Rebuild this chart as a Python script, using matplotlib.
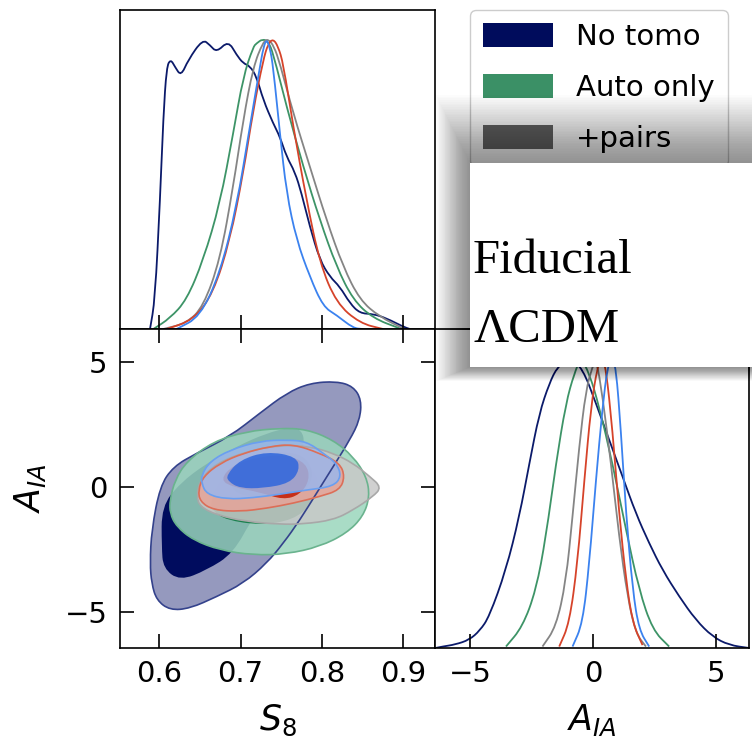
import numpy as np
import matplotlib
matplotlib.use("Agg")
import matplotlib.pyplot as plt
from matplotlib.path import Path
from matplotlib.patches import PathPatch, Patch, Rectangle

# ---- data ----
runs = ["No tomo", "Auto only", "+pairs", "red", "blue"]
legend_runs = ["No tomo", "Auto only", "+pairs"]

line_col = {"No tomo": "#0b1a6a", "Auto only": "#3d9467", "+pairs": "#858585",
            "red": "#d6432a", "blue": "#3b82ef"}
legend_col = {"No tomo": "#000c5c", "Auto only": "#3b9066", "+pairs": "#6a6a6a"}

# 1D marginal of S8
s8_x = {
    "No tomo": [0.5886, 0.5947, 0.6009, 0.605, 0.609, 0.614, 0.6193, 0.6267, 0.6356, 0.6533,
                0.6623, 0.6705, 0.6848, 0.6951, 0.7032, 0.7114, 0.7196, 0.7278, 0.740, 0.7483,
                0.7565, 0.7667, 0.7749, 0.7851, 0.7974, 0.8097, 0.822, 0.8343, 0.8466, 0.8629,
                0.8794, 0.8998, 0.908],
    "Auto only": [0.5928, 0.6131, 0.6336, 0.6541, 0.6746, 0.6909, 0.7032, 0.7155, 0.7196, 0.727,
                  0.734, 0.740, 0.7565, 0.777, 0.7974, 0.8179, 0.8384, 0.8629, 0.8957],
    "+pairs": [0.605, 0.6336, 0.6541, 0.6746, 0.6909, 0.7032, 0.7155, 0.7278, 0.734, 0.741,
               0.7483, 0.7647, 0.7851, 0.8056, 0.826, 0.8466, 0.871, 0.8998],
    "red": [0.609, 0.6418, 0.6663, 0.6869, 0.7032, 0.7155, 0.7278, 0.734, 0.740, 0.746,
            0.7524, 0.7647, 0.781, 0.7974, 0.8179, 0.8466, 0.875],
    "blue": [0.6213, 0.650, 0.6746, 0.6951, 0.7114, 0.7237, 0.728, 0.7319, 0.736, 0.740,
             0.7483, 0.7565, 0.7688, 0.7851, 0.8015, 0.8179, 0.8384, 0.85],
}
s8_p = {
    "No tomo": [0, 0.10, 0.445, 0.732, 0.904, 0.93, 0.904, 0.872, 0.928, 0.999,
                0.979, 0.954, 0.994, 0.945, 0.916, 0.907, 0.870, 0.790, 0.709, 0.663,
                0.594, 0.542, 0.468, 0.353, 0.238, 0.180, 0.146, 0.089, 0.054, 0.052,
                0.037, 0.008, 0],
    "Auto only": [0, 0.037, 0.10, 0.238, 0.433, 0.675, 0.870, 0.973, 0.985, 1.0,
                  0.991, 0.951, 0.767, 0.560, 0.376, 0.215, 0.10, 0.037, 0.002],
    "+pairs": [0, 0.02, 0.077, 0.238, 0.491, 0.721, 0.904, 0.991, 1.0, 0.975,
               0.916, 0.744, 0.560, 0.376, 0.215, 0.10, 0.042, 0.002],
    "red": [0, 0.031, 0.123, 0.307, 0.537, 0.755, 0.928, 0.985, 1.0, 0.975,
            0.916, 0.698, 0.445, 0.227, 0.089, 0.02, 0],
    "blue": [0, 0.042, 0.192, 0.422, 0.698, 0.904, 0.97, 1.0, 0.97, 0.904,
             0.675, 0.468, 0.307, 0.180, 0.077, 0.048, 0.003, 0],
}

# 1D marginal of A_IA
aia_x = {
    "No tomo": [-6.4, -6.11, -5.6, -5.03, -4.6, -4.22, -3.54, -3.0, -2.59, -2.19, -1.78, -1.45,
                -0.95, -0.43, 0.11, 0.65, 1.19, 1.73, 2.27, 2.81, 3.49, 4.16, 4.84, 5.51, 6.32],
    "Auto only": [-3.54, -2.87, -2.32, -1.92, -1.51, -1.11, -0.77, -0.5, -0.16, 0.24,
                  0.78, 1.33, 1.86, 2.41, 3.08],
    "+pairs": [-2.06, -1.51, -1.11, -0.84, -0.57, -0.30, -0.03, 0.12, 0.38, 0.72,
               1.05, 1.39, 1.73, 2.14],
    "red": [-1.38, -0.97, -0.64, -0.36, -0.09, 0.17, 0.34, 0.51, 0.78, 1.05, 1.33, 1.6, 2.0],
    "blue": [-0.84, -0.43, -0.16, 0.11, 0.38, 0.58, 0.75, 0.92, 1.12, 1.33, 1.6, 1.86, 2.27],
}
aia_p = {
    "No tomo": [0.0, 0.005, 0.012, 0.028, 0.06, 0.108, 0.269, 0.453, 0.637, 0.809, 0.913, 0.970,
                1.0, 0.964, 0.844, 0.717, 0.591, 0.464, 0.361, 0.269, 0.177, 0.097, 0.039, 0.010, 0.0],
    "Auto only": [0.005, 0.073, 0.2, 0.384, 0.637, 0.844, 0.947, 1.0, 0.947, 0.833,
                  0.637, 0.407, 0.2, 0.062, 0.005],
    "+pairs": [0.005, 0.073, 0.228, 0.453, 0.694, 0.889, 0.97, 1.0, 0.866, 0.637,
               0.384, 0.177, 0.05, 0.005],
    "red": [0.005, 0.085, 0.292, 0.58, 0.833, 0.97, 1.0, 0.97, 0.752, 0.465, 0.235, 0.085, 0.01],
    "blue": [0.005, 0.085, 0.292, 0.58, 0.833, 0.97, 1.0, 0.97, 0.752, 0.465, 0.2, 0.062, 0.005],
}

# 2D contours (S8, A_IA): 95% (outer) and 68% (inner) outlines
outer_s8 = {
    "No tomo": [0.5886, 0.5906, 0.6008, 0.6172, 0.6459, 0.6868, 0.7237, 0.7565, 0.7851, 0.8179,
                0.8384, 0.8486, 0.8465, 0.8343, 0.8138, 0.7933, 0.7728, 0.7524, 0.7319, 0.7032,
                0.6705, 0.6377, 0.6131, 0.5967, 0.5906],
    "Auto only": [0.6131, 0.6193, 0.6336, 0.6664, 0.7073, 0.7483, 0.7810, 0.8138, 0.8384, 0.8547,
                  0.8588, 0.8506, 0.8302, 0.7974, 0.7565, 0.7155, 0.6746, 0.6418, 0.6213, 0.6131],
    "+pairs": [0.6459, 0.6500, 0.6705, 0.7073, 0.7483, 0.7851, 0.8138, 0.8384, 0.8588, 0.8732,
               0.8629, 0.8384, 0.8138, 0.7769, 0.7483, 0.7073, 0.6705, 0.6500],
    "red": [0.6479, 0.6541, 0.6746, 0.7032, 0.7360, 0.7646, 0.7974, 0.8220, 0.8281, 0.8220,
            0.7974, 0.7646, 0.7319, 0.6991, 0.6664, 0.6500],
    "blue": [0.6520, 0.6623, 0.6868, 0.7237, 0.7565, 0.7810, 0.8015, 0.8179, 0.8240, 0.8138,
             0.7810, 0.7483, 0.7155, 0.6827, 0.6582, 0.6520],
}
outer_aia = {
    "No tomo": [-3.04, -1.71, 0.03, 0.825, 1.36, 2.03, 2.96, 3.76, 4.16, 4.23,
                4.03, 3.49, 2.69, 1.89, 0.825, -0.24, -1.31, -2.24, -3.04, -3.84,
                -4.37, -4.84, -4.91, -4.51, -3.84],
    "Auto only": [-0.51, 0.29, 1.03, 1.83, 2.23, 2.36, 2.32, 1.89, 1.23, 0.43,
                  -0.37, -1.17, -1.84, -2.37, -2.67, -2.71, -2.51, -2.11, -1.57, -1.04],
    "+pairs": [-0.37, 0.29, 0.96, 1.43, 1.69, 1.63, 1.36, 0.96, 0.43, 0.0,
               -0.37, -0.91, -1.31, -1.47, -1.48, -1.37, -1.11, -0.77],
    "red": [-0.11, 0.43, 0.96, 1.36, 1.63, 1.72, 1.36, 0.96, 0.43, -0.11,
            -0.37, -0.64, -0.84, -0.97, -0.91, -0.57],
    "blue": [0.49, 1.03, 1.49, 1.85, 1.89, 1.83, 1.36, 0.96, 0.43, 0.03,
             -0.11, -0.28, -0.42, -0.48, -0.28, 0.16],
}
inner_s8 = {
    "No tomo": [0.6029, 0.6254, 0.6582, 0.6950, 0.7319, 0.7605, 0.7749, 0.7790, 0.7687, 0.7442,
                0.7155, 0.6909, 0.6582, 0.6254, 0.6049, 0.6029],
    "Auto only": [0.6623, 0.6746, 0.7073, 0.7483, 0.7810, 0.7974, 0.7892, 0.7646, 0.7237, 0.6827, 0.6664],
    "+pairs": [0.6868, 0.6909, 0.7155, 0.7483, 0.7769, 0.7892, 0.7851, 0.7646, 0.7237, 0.6991],
    "red": [0.6746, 0.6909, 0.7237, 0.7565, 0.7810, 0.7851, 0.7728, 0.7524, 0.7237, 0.6909],
    "blue": [0.6827, 0.6991, 0.7319, 0.7687, 0.7728, 0.7605, 0.7278, 0.6991, 0.6848],
}
inner_aia = {
    "No tomo": [-0.77, 0.16, 0.96, 1.63, 2.16, 2.39, 2.29, 1.76, 0.96, -0.11,
                -1.17, -2.64, -3.31, -3.73, -3.24, -2.37],
    "Auto only": [-0.64, 0.29, 0.96, 1.23, 0.96, 0.29, -0.64, -1.31, -1.51, -1.31, -0.97],
    "+pairs": [0.03, 0.69, 1.23, 1.43, 1.29, 0.69, 0.03, -0.31, -0.37, -0.31],
    "red": [0.3, 0.9, 1.23, 1.29, 0.96, 0.29, -0.3, -0.5, -0.2, 0.0],
    "blue": [0.49, 1.09, 1.43, 1.23, 0.69, 0.16, -0.04, -0.04, 0.23],
}

# fill colours (used with alpha) and outline colours for the 2D panel
outer_fill = {"No tomo": "#9599be", "Auto only": "#9ad6bc", "+pairs": "#c8c8c8",
              "red": "#e6a499", "blue": "#9bb6eb"}
inner_fill = {"No tomo": "#000c5e", "Auto only": "#09773d", "+pairs": "#6a6a6a",
              "red": "#c41a00", "blue": "#2f66dc"}
edge_col = {"No tomo": "#34428c", "Auto only": "#6ab38e", "+pairs": "#a8a8a8",
            "red": "#dc6e58", "blue": "#6a9ff0"}

s8_lim = (0.5517, 0.939)
aia_lim = (-6.42, 6.32)
s8_ticks = [0.6, 0.7, 0.8, 0.9]
aia_ticks = [-5, 0, 5]


def smooth_closed(xs, ys):
    """ Closed quadratic B-spline through the outline vertices. """
    pts = np.column_stack([xs, ys])
    mids = (pts + np.roll(pts, -1, axis=0)) / 2
    verts = [mids[-1]]
    codes = [Path.MOVETO]
    for i in range(len(pts)):
        verts += [pts[i], mids[i]]
        codes += [Path.CURVE3, Path.CURVE3]
    return Path(verts, codes)


def smooth_open(xs, ys):
    """ Open quadratic B-spline, pinned at both end points. """
    pts = np.column_stack([xs, ys])
    mids = (pts[:-1] + pts[1:]) / 2
    verts = [pts[0], mids[0]]
    codes = [Path.MOVETO, Path.LINETO]
    for i in range(1, len(pts) - 1):
        verts += [pts[i], mids[i]]
        codes += [Path.CURVE3, Path.CURVE3]
    verts.append(pts[-1])
    codes.append(Path.LINETO)
    return Path(verts, codes)


def style(ax):
    for s in ax.spines.values():
        s.set_linewidth(1.2)
    ax.tick_params(direction="in", length=10, width=1.2, labelsize=21, pad=9)


W, H = 752, 745
fig = plt.figure(figsize=(W / 100, H / 100), dpi=100)

def px_axes(x0, y0, x1, y1):
    return fig.add_axes([x0 / W, 1 - y1 / H, (x1 - x0) / W, (y1 - y0) / H])

ax_top = px_axes(120, 10, 435, 329)
ax_2d = px_axes(120, 329, 435, 648)
ax_rt = px_axes(435, 329, 749, 648)

# --- top-left: S8 marginal
for r in runs:
    ax_top.add_patch(PathPatch(smooth_open(s8_x[r], s8_p[r]), facecolor="none",
                               edgecolor=line_col[r], lw=1.3))
ax_top.set_xlim(*s8_lim)
ax_top.set_ylim(0, 1.1)
ax_top.set_xticks(s8_ticks)
ax_top.set_yticks([])
style(ax_top)
ax_top.tick_params(labelbottom=False)

# --- bottom-left: 2D contours
for r in runs:
    a = 1.0 if r == "No tomo" else 0.85
    ax_2d.add_patch(PathPatch(smooth_closed(outer_s8[r], outer_aia[r]),
                              facecolor=outer_fill[r], edgecolor="none", alpha=a, zorder=1))
    ax_2d.add_patch(PathPatch(smooth_closed(inner_s8[r], inner_aia[r]),
                              facecolor=inner_fill[r], edgecolor="none", alpha=a, zorder=1))
for r in runs:
    ax_2d.add_patch(PathPatch(smooth_closed(outer_s8[r], outer_aia[r]),
                              facecolor="none", edgecolor=edge_col[r], lw=1.2, zorder=2))
ax_2d.set_xlim(*s8_lim)
ax_2d.set_ylim(*aia_lim)
ax_2d.set_xticks(s8_ticks)
ax_2d.set_yticks(aia_ticks)
style(ax_2d)
ax_2d.tick_params(top=True, right=True)
ax_2d.set_xlabel(r"$S_8$", fontsize=25)
ax_2d.set_ylabel(r"$A_{IA}$", fontsize=25)
ax_2d.xaxis.set_label_coords(0.5, -0.17)
ax_2d.yaxis.set_label_coords(-0.23, 0.5)

# --- bottom-right: A_IA marginal
for r in runs:
    ax_rt.add_patch(PathPatch(smooth_open(aia_x[r], aia_p[r]), facecolor="none",
                              edgecolor=line_col[r], lw=1.3))
ax_rt.set_xlim(*aia_lim)
ax_rt.set_ylim(0, 1.1)
ax_rt.set_xticks(aia_ticks)
ax_rt.set_yticks([])
style(ax_rt)
ax_rt.set_xlabel(r"$A_{IA}$", fontsize=25)
ax_rt.xaxis.set_label_coords(0.5, -0.17)

# --- legend
handles = [Patch(facecolor=legend_col[r], edgecolor="none") for r in legend_runs]
fig.legend(handles, legend_runs, loc="upper left", bbox_to_anchor=(470 / W, 1 - 10 / H),
           borderaxespad=0, fontsize=21, handlelength=2.4, handleheight=0.9,
           handletextpad=0.78, labelspacing=0.78, borderpad=0.45, fancybox=True,
           framealpha=1, edgecolor="0.8")

# --- overlaid note box with soft shadow
bx0, by0, bx1, by1 = 470, 163, 752, 367
n = 40
for i in range(1, n + 1):
    x0 = bx0 - 0.85 * i
    y0 = by0 - 1.7 * i
    y1 = by1 + 0.35 * i
    fig.patches.append(Rectangle((x0 / W, 1 - y1 / H), (bx1 - x0) / W, (y1 - y0) / H,
                                 transform=fig.transFigure, facecolor="black",
                                 edgecolor="none", alpha=0.013, zorder=6))
fig.patches.append(Rectangle((bx0 / W, 1 - by1 / H), (bx1 - bx0) / W, (by1 - by0) / H,
                             transform=fig.transFigure, facecolor="white",
                             edgecolor="none", zorder=7))
fig.text(473 / W, 1 - 273 / H, "Fiducial", family="Liberation Serif", fontsize=35,
         va="baseline", zorder=8)
fig.text(473 / W, 1 - 342 / H, "\u039bCDM", family="Liberation Serif", fontsize=35,
         va="baseline", zorder=8)

fig.savefig("out.png", dpi=100)
